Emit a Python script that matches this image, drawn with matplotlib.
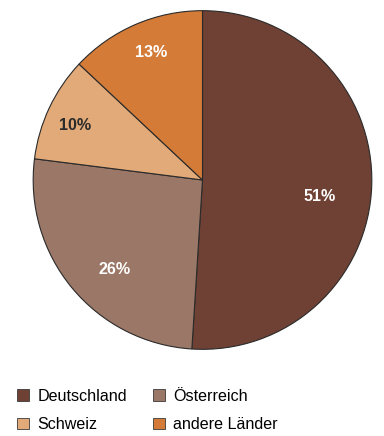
import numpy as np
import matplotlib.pyplot as plt
from matplotlib.patches import Patch

plt.rcParams["font.family"] = ["Liberation Sans", "DejaVu Sans"]

# Anteile nach Herkunftsland
laender = ["Deutschland", "Österreich", "Schweiz", "andere Länder"]
anteile = [51, 26, 10, 13]
farben = ["#6e4134", "#9a7766", "#e2aa78", "#d47b38"]
textfarben = ["white", "white", "#2b2b2b", "white"]
label_abstand = [0.70, 0.74, 0.82, 0.81]
label_drehung = [-6.4, 5.8, 1.9, -1.6]  # Grad, Feinjustierung der Beschriftung

fig = plt.figure(figsize=(3.84, 4.36), dpi=100)
ax = fig.add_axes([32.5 / 384, 86 / 436, 340 / 384, 340 / 436])

wedges, _ = ax.pie(
    anteile,
    colors=farben,
    startangle=90,
    counterclock=False,
    radius=1,
    wedgeprops=dict(edgecolor="#2a2a2a", linewidth=0.8),
)

# Prozentwerte in den Segmenten
for w, wert, farbe, r, d in zip(wedges, anteile, textfarben, label_abstand, label_drehung):
    mitte = np.deg2rad((w.theta1 + w.theta2) / 2 + d)
    ax.text(
        r * np.cos(mitte),
        r * np.sin(mitte),
        f"{wert}%",
        ha="center",
        va="center",
        color=farbe,
        fontsize=11.6,
        fontweight="bold",
    )

ax.set_xlim(-1.004, 1.004)
ax.set_ylim(-1.004, 1.004)
ax.set_aspect("equal")
ax.axis("off")

# Legende zweispaltig: Spalte 1 Deutschland/Schweiz, Spalte 2 Österreich/andere
handles = [
    Patch(facecolor=f, edgecolor="#3a3a3a", linewidth=0.6) for f in farben
]
reihenfolge = [0, 2, 1, 3]
fig.legend(
    [handles[i] for i in reihenfolge],
    [laender[i] for i in reihenfolge],
    ncol=2,
    loc="upper left",
    bbox_to_anchor=(17 / 384, 1 - 388.5 / 436),
    frameon=False,
    fontsize=11.6,
    handlelength=0.75,
    handleheight=0.75,
    handletextpad=0.5,
    columnspacing=1.62,
    labelspacing=0.85,
    borderpad=0,
    borderaxespad=0,
)

fig.savefig("out.png", dpi=100)
